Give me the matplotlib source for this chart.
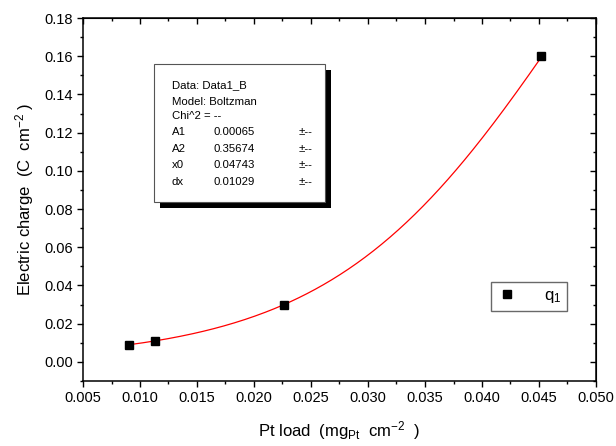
import numpy as np
import matplotlib
matplotlib.use('Agg')
import matplotlib.pyplot as plt
from matplotlib.patches import Rectangle
from matplotlib.ticker import MultipleLocator

plt.rcParams['font.family'] = ['Liberation Sans', 'DejaVu Sans']
plt.rcParams['mathtext.fontset'] = 'custom'
plt.rcParams['mathtext.rm'] = 'Liberation Sans'
plt.rcParams['mathtext.it'] = 'Liberation Sans'

# measured data
pt_load = [0.0090, 0.0113, 0.0226, 0.0452]
charge = [0.0090, 0.0110, 0.0300, 0.1600]

# Boltzmann fit parameters (as printed in the box)
fit_names = ['A1', 'A2', 'x0', 'dx']
fit_vals = [0.00065, 0.35674, 0.04743, 0.01029]
A1, A2, x0, dx = fit_vals

xfit = np.linspace(min(pt_load), max(pt_load), 200)
yfit = A2 + (A1 - A2) / (1 + np.exp((xfit - x0) / dx))

W, H = 616, 446
fig = plt.figure(figsize=(6.16, 4.46), dpi=100)
ax = fig.add_axes([83/W, 1 - 381/H, (596-83)/W, (381-18)/H])

ax.plot(xfit, yfit, color='red', lw=0.9, zorder=2)
ax.plot(pt_load, charge, 's', color='black', ms=6.3, zorder=3, label='q$_1$')

ax.set_xlim(0.005, 0.050)
ax.set_ylim(-0.01, 0.18)
ax.xaxis.set_major_locator(MultipleLocator(0.005))
ax.xaxis.set_minor_locator(MultipleLocator(0.0025))
ax.yaxis.set_major_locator(MultipleLocator(0.02))
ax.yaxis.set_minor_locator(MultipleLocator(0.01))
ax.set_yticks(np.arange(0, 0.181, 0.02))
ax.set_xticklabels(['%.3f' % v for v in ax.get_xticks()])
ax.set_yticklabels(['%.2f' % v for v in ax.get_yticks()])

for s in ax.spines.values():
    s.set_linewidth(1.1)
ax.tick_params(which='both', direction='out', labelsize=10.5, width=1.0, pad=3)
ax.tick_params(which='major', length=4)
ax.tick_params(which='minor', length=2.5)

# Origin-style inward ticks on top and right
axt = ax.secondary_xaxis('top')
axt.xaxis.set_major_locator(MultipleLocator(0.005))
axt.xaxis.set_minor_locator(MultipleLocator(0.0025))
axt.tick_params(which='both', direction='in', labeltop=False, width=1.0)
axt.tick_params(which='major', length=4)
axt.tick_params(which='minor', length=2.5)
axr = ax.secondary_yaxis('right')
axr.yaxis.set_major_locator(MultipleLocator(0.02))
axr.yaxis.set_minor_locator(MultipleLocator(0.01))
axr.tick_params(which='both', direction='in', labelright=False, width=1.0)
axr.tick_params(which='major', length=4)
axr.tick_params(which='minor', length=2.5)

ax.set_xlabel('Pt load  (mg$_{\\mathrm{Pt}}$  cm$^{-2}$  )', fontsize=12, labelpad=10)
ax.set_ylabel('Electric charge  (C  cm$^{-2}$ )', fontsize=12, labelpad=6)

leg = ax.legend(loc='upper left', bbox_to_anchor=((491-83)/513, (381-282)/363),
                borderaxespad=0, fontsize=12, frameon=True, fancybox=False,
                handlelength=1.2, handletextpad=1.6, borderpad=0.35, markerscale=0.85)
leg.get_frame().set_edgecolor('#444444')
leg.get_frame().set_linewidth(1.0)

# fit parameter box with drop shadow (pixel coords -> figure fraction)
bx0, bx1, by0, by1 = 154, 325, 64, 202
fig.patches.append(Rectangle(((bx0+6)/W, 1-(by1+6)/H), (bx1-bx0)/W, (by1-by0)/H,
                             transform=fig.transFigure, facecolor='black', edgecolor='none', zorder=5))
fig.patches.append(Rectangle((bx0/W, 1-by1/H), (bx1-bx0)/W, (by1-by0)/H,
                             transform=fig.transFigure, facecolor='white', edgecolor='#555555',
                             lw=0.8, zorder=6))

fs = 8.2
lines = ['Data: Data1_B', 'Model: Boltzman', 'Chi^2 = --']
ys = [85, 102, 116, 132, 149, 165, 182]
for t, yy in zip(lines, ys[:3]):
    fig.text(172/W, 1-yy/H, t, fontsize=fs, va='center', zorder=7)
for name, val, yy in zip(fit_names, fit_vals, ys[3:]):
    fig.text(172/W, 1-yy/H, name, fontsize=fs, va='center', zorder=7)
    fig.text(213/W, 1-yy/H, '%.5f' % val, fontsize=fs, va='center', zorder=7)
    fig.text(299/W, 1-yy/H, '\u00b1--', fontsize=fs, va='center', zorder=7)

fig.savefig('out.png', dpi=100)
